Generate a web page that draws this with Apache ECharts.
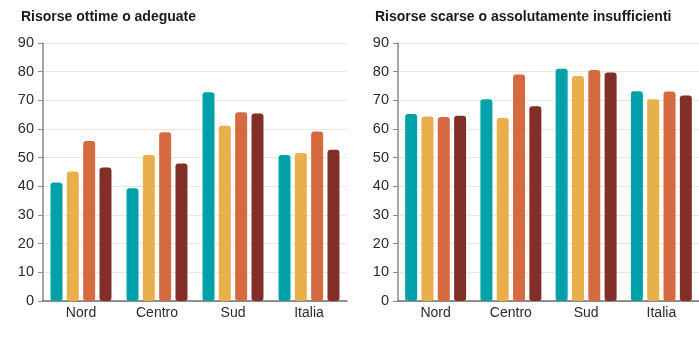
<!DOCTYPE html>
<html><head><meta charset="utf-8">
<script src="https://cdn.jsdelivr.net/npm/echarts@6/dist/echarts.min.js"></script>
<style>html,body{margin:0;padding:0;background:#fff}#c{width:699px;height:348px}</style>
</head><body><div id="c"></div>
<script>
const categories = ['Nord', 'Centro', 'Sud', 'Italia'];
const titleLeft = 'Risorse ottime o adeguate';
const titleRight = 'Risorse scarse o assolutamente insufficienti';
const yTicks = [0, 10, 20, 30, 40, 50, 60, 70, 80, 90];
// left panel: four series per region
const leftS1 = [41.3, 39.3, 72.8, 50.9];
const leftS2 = [45.2, 50.9, 61.1, 51.6];
const leftS3 = [55.8, 58.9, 65.8, 59.1];
const leftS4 = [46.6, 48.0, 65.4, 52.8];
// right panel
const rightS1 = [65.2, 70.4, 81.0, 73.2];
const rightS2 = [64.4, 63.8, 78.5, 70.4];
const rightS3 = [64.2, 79.0, 80.6, 73.1];
const rightS4 = [64.6, 67.9, 79.7, 71.7];
const colors = ['#00a1a9', '#e9af4a', '#d5693f', '#822e29'];

const chart = echarts.init(document.getElementById('c'));
const fontFam = '"Liberation Sans", Arial, sans-serif';
function xAx(i) {
  return {
    type: 'category', gridIndex: i, data: categories,
    axisLine: { lineStyle: { color: '#6e6e6e', width: 1.5 } },
    axisTick: { show: false },
    axisLabel: { color: '#2b2b2b', fontSize: 14, fontFamily: fontFam, margin: 5 }
  };
}
function yAx(i) {
  return {
    type: 'value', gridIndex: i, min: yTicks[0], max: yTicks[yTicks.length - 1], interval: 10,
    axisLine: { show: true, lineStyle: { color: '#8a8a8a', width: 1.5 } },
    axisTick: { show: true, length: 5, lineStyle: { color: '#8a8a8a' } },
    axisLabel: { color: '#2b2b2b', fontSize: 14.5, fontFamily: fontFam, margin: 9 },
    splitLine: { show: true, lineStyle: { color: '#ebe7dc', width: 1 } }
  };
}
function bar(name, data, idx, g) {
  return {
    type: 'bar', name: name, data: data, xAxisIndex: g, yAxisIndex: g,
    barWidth: 12, barGap: '36%', barCategoryGap: '20%',
    itemStyle: { color: colors[idx], borderRadius: 3 }
  };
}
chart.setOption({
  animation: false,
  title: [
    { text: titleLeft, left: 16, top: 5, textStyle: { fontSize: 14, fontWeight: 'bold', color: '#1a1a1a', fontFamily: fontFam } },
    { text: titleRight, left: 370, top: 5, textStyle: { fontSize: 14, fontWeight: 'bold', color: '#1a1a1a', fontFamily: fontFam } }
  ],
  grid: [
    { left: 43, top: 43, width: 304, height: 258 },
    { left: 398, top: 43, width: 304, height: 258 }
  ],
  xAxis: [xAx(0), xAx(1)],
  yAxis: [yAx(0), yAx(1)],
  series: [
    bar('s1', leftS1, 0, 0), bar('s2', leftS2, 1, 0), bar('s3', leftS3, 2, 0), bar('s4', leftS4, 3, 0),
    bar('s1', rightS1, 0, 1), bar('s2', rightS2, 1, 1), bar('s3', rightS3, 2, 1), bar('s4', rightS4, 3, 1)
  ]
});
</script></body></html>
